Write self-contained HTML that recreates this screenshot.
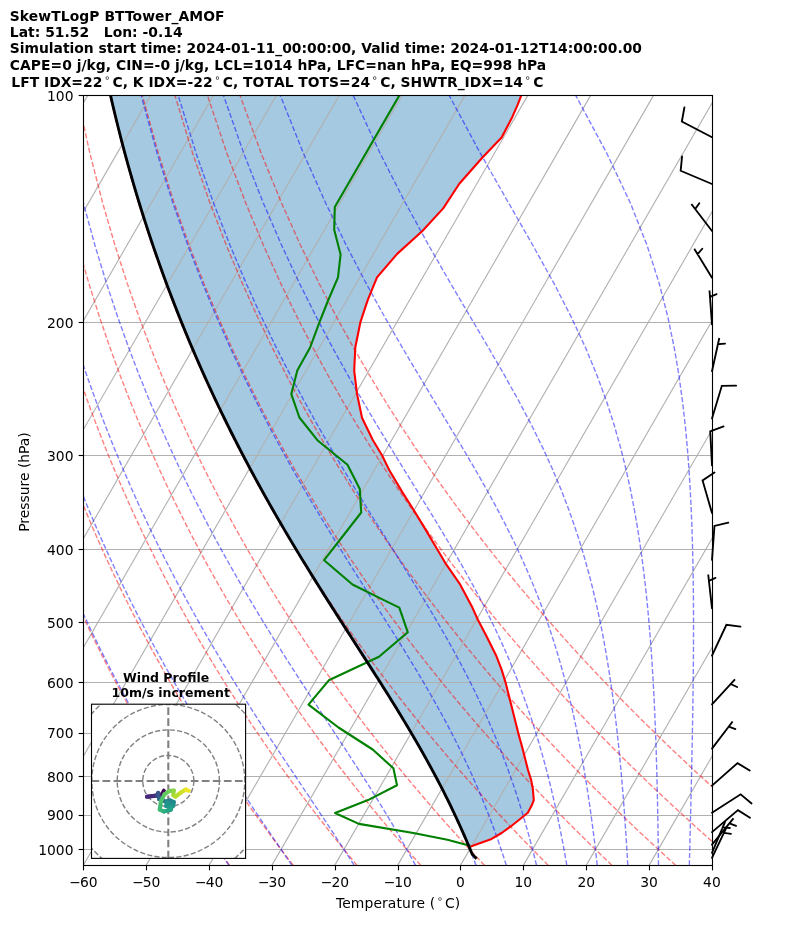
<!DOCTYPE html>
<html><head><meta charset="utf-8"><title>SkewTLogP BTTower_AMOF</title>
<style>html,body{margin:0;padding:0;background:#fff}svg{display:block}text{font-family:"DejaVu Sans","Liberation Sans",sans-serif;fill:#000}</style></head><body>
<svg width="794" height="937" viewBox="0 0 794 937">
<rect width="794" height="937" fill="#fff"/>
<defs><clipPath id="ax"><rect x="83.5" y="95.5" width="629" height="770"/></clipPath>
<clipPath id="hodo"><rect x="91.5" y="704.2" width="154.1" height="154.2"/></clipPath></defs>
<g clip-path="url(#ax)">
<polygon points="470.6,846.6 490.2,839.6 501.6,833 510.4,826.7 519.2,819.7 527.8,812.8 531.8,805.3 533.8,800.2 532.8,788.9 531.2,780.1 528,770 522.4,748 518.4,733.6 512,708 505.3,681.6 501.6,669.6 496,655.2 486.4,636 478,620 472.4,607.6 459.6,583.6 445.2,562.8 437.2,549.2 424.4,527.6 413.2,509.2 402,491.6 389.2,470 382,455.2 372.8,440 362.1,418 357.1,394.4 354.2,370.8 355.3,347.3 360.5,321.8 367.7,300.1 377,277.4 397.4,253.6 422.4,231 443.2,208.4 459.3,183.7 482,158 501.6,137.6 512.2,117.2 517.5,105.1 521.3,95.4 110.53,95.4 111.99,101.77 113.49,108.15 115.01,114.52 116.56,120.9 118.15,127.27 119.76,133.65 121.4,140.02 123.07,146.4 124.77,152.77 126.5,159.15 128.26,165.52 130.05,171.9 131.87,178.27 133.72,184.64 135.61,191.02 137.52,197.39 139.47,203.77 141.44,210.14 143.45,216.52 145.49,222.89 147.56,229.27 149.67,235.64 151.8,242.02 153.97,248.39 156.17,254.76 158.41,261.14 160.67,267.51 162.97,273.89 165.31,280.26 167.67,286.64 170.08,293.01 172.51,299.39 174.98,305.76 177.48,312.14 180.02,318.51 182.59,324.89 185.2,331.26 187.84,337.63 190.51,344.01 193.23,350.38 195.97,356.76 198.76,363.13 201.57,369.51 204.43,375.88 207.32,382.26 210.25,388.63 213.21,395.01 216.21,401.38 219.24,407.75 222.32,414.13 225.43,420.5 228.57,426.88 231.76,433.25 234.98,439.63 238.23,446 241.53,452.38 244.86,458.75 248.23,465.13 251.63,471.5 255.08,477.88 258.55,484.25 262.07,490.62 265.62,497 269.21,503.37 272.83,509.75 276.48,516.12 280.17,522.5 283.9,528.87 287.66,535.25 291.45,541.62 295.27,548 299.12,554.37 303,560.74 306.91,567.12 310.85,573.49 314.81,579.87 318.8,586.24 322.8,592.62 326.83,598.99 330.88,605.37 334.94,611.74 339.01,618.12 343.1,624.49 347.2,630.87 351.3,637.24 355.4,643.61 359.5,649.99 363.6,656.36 367.69,662.74 371.77,669.11 375.84,675.49 379.89,681.86 383.92,688.24 387.92,694.61 391.9,700.99 395.84,707.36 399.75,713.73 403.62,720.11 407.45,726.48 411.24,732.86 414.97,739.23 418.66,745.61 422.29,751.98 425.87,758.36 429.39,764.73 432.85,771.11 436.26,777.48 439.6,783.86 442.87,790.23 446.09,796.6 449.24,802.98 452.32,809.35 455.34,815.73 458.29,822.1 461.18,828.48 464.01,834.85 466.77,841.23" fill="#1f77b4" fill-opacity="0.4"/>
</g>
<g clip-path="url(#ax)" stroke="#b0b0b0" stroke-width="1.11" fill="none">
<line x1="83.25" x2="711.95" y1="322.5" y2="322.5"/>
<line x1="83.25" x2="711.95" y1="455.5" y2="455.5"/>
<line x1="83.25" x2="711.95" y1="549.5" y2="549.5"/>
<line x1="83.25" x2="711.95" y1="622.5" y2="622.5"/>
<line x1="83.25" x2="711.95" y1="682.5" y2="682.5"/>
<line x1="83.25" x2="711.95" y1="733.5" y2="733.5"/>
<line x1="83.25" x2="711.95" y1="776.5" y2="776.5"/>
<line x1="83.25" x2="711.95" y1="815.5" y2="815.5"/>
<line x1="83.25" x2="711.95" y1="849.5" y2="849.5"/>
<line x1="-419.71" y1="865.4" x2="24.85" y2="95.4"/>
<line x1="-356.84" y1="865.4" x2="87.72" y2="95.4"/>
<line x1="-293.97" y1="865.4" x2="150.59" y2="95.4"/>
<line x1="-231.1" y1="865.4" x2="213.46" y2="95.4"/>
<line x1="-168.23" y1="865.4" x2="276.33" y2="95.4"/>
<line x1="-105.36" y1="865.4" x2="339.2" y2="95.4"/>
<line x1="-42.49" y1="865.4" x2="402.07" y2="95.4"/>
<line x1="20.38" y1="865.4" x2="464.94" y2="95.4"/>
<line x1="83.25" y1="865.4" x2="527.81" y2="95.4"/>
<line x1="146.12" y1="865.4" x2="590.68" y2="95.4"/>
<line x1="208.99" y1="865.4" x2="653.55" y2="95.4"/>
<line x1="271.86" y1="865.4" x2="716.42" y2="95.4"/>
<line x1="334.73" y1="865.4" x2="779.29" y2="95.4"/>
<line x1="397.6" y1="865.4" x2="842.16" y2="95.4"/>
<line x1="460.47" y1="865.4" x2="905.03" y2="95.4"/>
<line x1="523.34" y1="865.4" x2="967.9" y2="95.4"/>
<line x1="586.21" y1="865.4" x2="1030.77" y2="95.4"/>
<line x1="649.08" y1="865.4" x2="1093.64" y2="95.4"/>
<line x1="711.95" y1="865.4" x2="1156.51" y2="95.4"/>
</g>
<g clip-path="url(#ax)" fill="none" stroke-width="1.39" stroke-dasharray="5.14 2.22">
<g stroke="#ff0000" stroke-opacity="0.5">
<polyline points="229.57,865.4 225.2,859.3 220.79,853.08 216.34,846.74 211.84,840.27 207.31,833.68 202.73,826.95 198.11,820.08 193.44,813.06 188.72,805.89 183.95,798.55 179.14,791.05 174.27,783.38 169.35,775.51 164.38,767.46 159.35,759.2 154.26,750.73 149.12,742.03 143.91,733.1 138.65,723.92 133.32,714.47 127.92,704.74 122.45,694.71 116.92,684.36 111.31,673.68 105.63,662.64 99.88,651.21 94.04,639.37 88.12,627.08 82.12,614.32 76.03,601.04 69.86,587.19 63.59,572.74 57.23,557.62 50.77,541.76 44.22,525.1 37.56,507.54 30.81,488.99 23.96,469.33 17.01,448.41 9.96,426.06 2.83,402.07 -4.38,376.19 -11.65,348.08 -18.95,317.33 -26.24,283.4 -33.45,245.53 -40.46,202.71 -47.1,153.43 -53.02,95.4"/>
<polyline points="293.32,865.4 288.61,859.3 283.86,853.08 279.06,846.74 274.21,840.27 269.32,833.68 264.38,826.95 259.39,820.08 254.34,813.06 249.24,805.89 244.09,798.55 238.88,791.05 233.62,783.38 228.29,775.51 222.91,767.46 217.46,759.2 211.95,750.73 206.37,742.03 200.72,733.1 195,723.92 189.2,714.47 183.33,704.74 177.39,694.71 171.36,684.36 165.25,673.68 159.05,662.64 152.76,651.21 146.38,639.37 139.91,627.08 133.33,614.32 126.65,601.04 119.87,587.19 112.97,572.74 105.97,557.62 98.84,541.76 91.59,525.1 84.22,507.54 76.72,488.99 69.08,469.33 61.32,448.41 53.42,426.06 45.38,402.07 37.22,376.19 28.94,348.08 20.57,317.33 12.13,283.4 3.67,245.53 -4.7,202.71 -12.84,153.43 -20.46,95.4"/>
<polyline points="357.07,865.4 352.02,859.3 346.93,853.08 341.78,846.74 336.58,840.27 331.33,833.68 326.03,826.95 320.67,820.08 315.25,813.06 309.77,805.89 304.23,798.55 298.63,791.05 292.97,783.38 287.24,775.51 281.44,767.46 275.57,759.2 269.63,750.73 263.61,742.03 257.52,733.1 251.35,723.92 245.09,714.47 238.75,704.74 232.32,694.71 225.8,684.36 219.18,673.68 212.46,662.64 205.65,651.21 198.72,639.37 191.69,627.08 184.54,614.32 177.27,601.04 169.88,587.19 162.36,572.74 154.71,557.62 146.91,541.76 138.97,525.1 130.87,507.54 122.62,488.99 114.21,469.33 105.63,448.41 96.87,426.06 87.94,402.07 78.83,376.19 69.54,348.08 60.09,317.33 50.5,283.4 40.79,245.53 31.06,202.71 21.41,153.43 12.1,95.4"/>
<polyline points="420.82,865.4 415.44,859.3 410,853.08 404.5,846.74 398.95,840.27 393.35,833.68 387.68,826.95 381.95,820.08 376.16,813.06 370.3,805.89 364.37,798.55 358.38,791.05 352.32,783.38 346.18,775.51 339.97,767.46 333.68,759.2 327.31,750.73 320.86,742.03 314.32,733.1 307.69,723.92 300.98,714.47 294.16,704.74 287.25,694.71 280.23,684.36 273.11,673.68 265.88,662.64 258.53,651.21 251.07,639.37 243.47,627.08 235.75,614.32 227.9,601.04 219.9,587.19 211.75,572.74 203.44,557.62 194.98,541.76 186.34,525.1 177.53,507.54 168.53,488.99 159.33,469.33 149.94,448.41 140.32,426.06 130.49,402.07 120.43,376.19 110.14,348.08 99.61,317.33 88.86,283.4 77.92,245.53 66.82,202.71 55.67,153.43 44.67,95.4"/>
<polyline points="484.58,865.4 478.85,859.3 473.07,853.08 467.23,846.74 461.32,840.27 455.36,833.68 449.33,826.95 443.23,820.08 437.06,813.06 430.82,805.89 424.51,798.55 418.13,791.05 411.67,783.38 405.13,775.51 398.5,767.46 391.79,759.2 384.99,750.73 378.11,742.03 371.12,733.1 364.04,723.92 356.86,714.47 349.58,704.74 342.18,694.71 334.67,684.36 327.05,673.68 319.3,662.64 311.42,651.21 303.41,639.37 295.26,627.08 286.96,614.32 278.52,601.04 269.91,587.19 261.13,572.74 252.18,557.62 243.05,541.76 233.72,525.1 224.19,507.54 214.44,488.99 204.46,469.33 194.25,448.41 183.78,426.06 173.04,402.07 162.03,376.19 150.73,348.08 139.13,317.33 127.23,283.4 115.04,245.53 102.58,202.71 89.92,153.43 77.23,95.4"/>
<polyline points="548.33,865.4 542.27,859.3 536.14,853.08 529.95,846.74 523.69,840.27 517.37,833.68 510.98,826.95 504.51,820.08 497.97,813.06 491.35,805.89 484.66,798.55 477.88,791.05 471.02,783.38 464.07,775.51 457.03,767.46 449.9,759.2 442.68,750.73 435.35,742.03 427.93,733.1 420.39,723.92 412.75,714.47 404.99,704.74 397.11,694.71 389.11,684.36 380.98,673.68 372.71,662.64 364.31,651.21 355.75,639.37 347.04,627.08 338.17,614.32 329.14,601.04 319.92,587.19 310.52,572.74 300.92,557.62 291.12,541.76 281.1,525.1 270.84,507.54 260.34,488.99 249.59,469.33 238.55,448.41 227.23,426.06 215.6,402.07 203.64,376.19 191.33,348.08 178.66,317.33 165.6,283.4 152.16,245.53 138.34,202.71 124.18,153.43 109.8,95.4"/>
<polyline points="612.08,865.4 605.68,859.3 599.21,853.08 592.67,846.74 586.06,840.27 579.38,833.68 572.62,826.95 565.79,820.08 558.88,813.06 551.88,805.89 544.8,798.55 537.63,791.05 530.37,783.38 523.01,775.51 515.56,767.46 508.01,759.2 500.36,750.73 492.6,742.03 484.73,733.1 476.74,723.92 468.64,714.47 460.4,704.74 452.04,694.71 443.55,684.36 434.91,673.68 426.13,662.64 417.19,651.21 408.09,639.37 398.83,627.08 389.39,614.32 379.76,601.04 369.94,587.19 359.91,572.74 349.66,557.62 339.19,541.76 328.47,525.1 317.5,507.54 306.25,488.99 294.71,469.33 282.86,448.41 270.69,426.06 258.15,402.07 245.24,376.19 231.93,348.08 218.18,317.33 203.97,283.4 189.28,245.53 174.1,202.71 158.43,153.43 142.36,95.4"/>
<polyline points="675.83,865.4 669.09,859.3 662.28,853.08 655.4,846.74 648.43,840.27 641.39,833.68 634.27,826.95 627.07,820.08 619.78,813.06 612.41,805.89 604.94,798.55 597.38,791.05 589.72,783.38 581.96,775.51 574.1,767.46 566.13,759.2 558.04,750.73 549.85,742.03 541.53,733.1 533.09,723.92 524.52,714.47 515.82,704.74 506.98,694.71 497.99,684.36 488.84,673.68 479.54,662.64 470.08,651.21 460.44,639.37 450.61,627.08 440.6,614.32 430.38,601.04 419.95,587.19 409.29,572.74 398.4,557.62 387.26,541.76 375.85,525.1 364.15,507.54 352.16,488.99 339.84,469.33 327.17,448.41 314.14,426.06 300.71,402.07 286.85,376.19 272.52,348.08 257.7,317.33 242.34,283.4 226.4,245.53 209.86,202.71 192.69,153.43 174.93,95.4"/>
<polyline points="739.59,865.4 732.51,859.3 725.35,853.08 718.12,846.74 710.8,840.27 703.41,833.68 695.92,826.95 688.35,820.08 680.69,813.06 672.93,805.89 665.08,798.55 657.12,791.05 649.07,783.38 640.9,775.51 632.63,767.46 624.24,759.2 615.73,750.73 607.1,742.03 598.33,733.1 589.44,723.92 580.41,714.47 571.23,704.74 561.91,694.71 552.42,684.36 542.78,673.68 532.96,662.64 522.96,651.21 512.78,639.37 502.4,627.08 491.81,614.32 481,601.04 469.96,587.19 458.68,572.74 447.14,557.62 435.33,541.76 423.22,525.1 410.81,507.54 398.06,488.99 384.96,469.33 371.48,448.41 357.59,426.06 343.26,402.07 328.45,376.19 313.12,348.08 297.22,317.33 280.71,283.4 263.52,245.53 245.62,202.71 226.94,153.43 207.49,95.4"/>
<polyline points="803.34,865.4 795.92,859.3 788.42,853.08 780.84,846.74 773.17,840.27 765.42,833.68 757.57,826.95 749.63,820.08 741.6,813.06 733.46,805.89 725.22,798.55 716.87,791.05 708.42,783.38 699.85,775.51 691.16,767.46 682.35,759.2 673.41,750.73 664.34,742.03 655.14,733.1 645.79,723.92 636.3,714.47 626.65,704.74 616.84,694.71 606.86,684.36 596.71,673.68 586.38,662.64 575.85,651.21 565.12,639.37 554.18,627.08 543.02,614.32 531.62,601.04 519.97,587.19 508.07,572.74 495.88,557.62 483.4,541.76 470.6,525.1 457.46,507.54 443.97,488.99 430.09,469.33 415.79,448.41 401.05,426.06 385.82,402.07 370.05,376.19 353.71,348.08 336.74,317.33 319.08,283.4 300.65,245.53 281.38,202.71 261.2,153.43 240.06,95.4"/>
</g><g stroke="#0000ff" stroke-opacity="0.5">
<polyline points="229,865.4 224.86,859.3 220.67,853.08 216.42,846.74 212.1,840.27 207.73,833.68 203.3,826.95 198.81,820.08 194.26,813.06 189.65,805.89 184.98,798.55 180.25,791.05 175.46,783.38 170.6,775.51 165.68,767.46 160.7,759.2 155.65,750.73 150.54,742.03 145.36,733.1 140.11,723.92 134.8,714.47 129.41,704.74 123.95,694.71 118.42,684.36 112.81,673.68 107.12,662.64 101.36,651.21 95.51,639.37 89.59,627.08 83.57,614.32 77.47,601.04 71.28,587.19 64.99,572.74 58.62,557.62 52.14,541.76 45.57,525.1 38.89,507.54 32.12,488.99 25.24,469.33 18.27,448.41 11.2,426.06 4.04,402.07 -3.2,376.19 -10.5,348.08 -17.83,317.33 -25.16,283.4 -32.4,245.53 -39.46,202.71 -46.14,153.43 -52.11,95.4"/>
<polyline points="291.95,865.4 287.8,859.3 283.57,853.08 279.26,846.74 274.86,840.27 270.38,833.68 265.82,826.95 261.18,820.08 256.45,813.06 251.64,805.89 246.75,798.55 241.77,791.05 236.71,783.38 231.57,775.51 226.34,767.46 221.03,759.2 215.64,750.73 210.15,742.03 204.59,733.1 198.93,723.92 193.19,714.47 187.36,704.74 181.44,694.71 175.42,684.36 169.32,673.68 163.12,662.64 156.82,651.21 150.42,639.37 143.92,627.08 137.32,614.32 130.6,601.04 123.78,587.19 116.84,572.74 109.79,557.62 102.61,541.76 95.31,525.1 87.88,507.54 80.32,488.99 72.63,469.33 64.8,448.41 56.83,426.06 48.72,402.07 40.49,376.19 32.13,348.08 23.67,317.33 15.13,283.4 6.58,245.53 -1.91,202.71 -10.16,153.43 -17.92,95.4"/>
<polyline points="354.19,865.4 350.3,859.3 346.31,853.08 342.22,846.74 338.01,840.27 333.68,833.68 329.25,826.95 324.7,820.08 320.03,813.06 315.25,805.89 310.35,798.55 305.33,791.05 300.2,783.38 294.94,775.51 289.57,767.46 284.07,759.2 278.46,750.73 272.73,742.03 266.88,733.1 260.9,723.92 254.81,714.47 248.6,704.74 242.27,694.71 235.82,684.36 229.25,673.68 222.55,662.64 215.73,651.21 208.78,639.37 201.7,627.08 194.5,614.32 187.16,601.04 179.68,587.19 172.06,572.74 164.29,557.62 156.38,541.76 148.31,525.1 140.08,507.54 131.69,488.99 123.12,469.33 114.38,448.41 105.45,426.06 96.34,402.07 87.04,376.19 77.56,348.08 67.89,317.33 58.07,283.4 48.12,245.53 38.11,202.71 28.17,153.43 18.53,95.4"/>
<polyline points="415.53,865.4 412.25,859.3 408.85,853.08 405.33,846.74 401.67,840.27 397.89,833.68 393.97,826.95 389.9,820.08 385.69,813.06 381.33,805.89 376.81,798.55 372.14,791.05 367.3,783.38 362.3,775.51 357.14,767.46 351.8,759.2 346.29,750.73 340.61,742.03 334.75,733.1 328.71,723.92 322.5,714.47 316.12,704.74 309.56,694.71 302.82,684.36 295.9,673.68 288.81,662.64 281.54,651.21 274.1,639.37 266.48,627.08 258.69,614.32 250.71,601.04 242.56,587.19 234.22,572.74 225.7,557.62 216.98,541.76 208.07,525.1 198.96,507.54 189.63,488.99 180.09,469.33 170.33,448.41 160.33,426.06 150.08,402.07 139.58,376.19 128.83,348.08 117.81,317.33 106.53,283.4 95,245.53 83.28,202.71 71.43,153.43 59.65,95.4"/>
<polyline points="476.15,865.4 473.73,859.3 471.21,853.08 468.57,846.74 465.82,840.27 462.94,833.68 459.94,826.95 456.8,820.08 453.51,813.06 450.07,805.89 446.46,798.55 442.69,791.05 438.73,783.38 434.59,775.51 430.25,767.46 425.7,759.2 420.93,750.73 415.94,742.03 410.71,733.1 405.23,723.92 399.51,714.47 393.53,704.74 387.28,694.71 380.77,684.36 373.98,673.68 366.91,662.64 359.57,651.21 351.94,639.37 344.04,627.08 335.86,614.32 327.41,601.04 318.67,587.19 309.67,572.74 300.39,557.62 290.83,541.76 281,525.1 270.89,507.54 260.49,488.99 249.81,469.33 238.82,448.41 227.53,426.06 215.91,402.07 203.95,376.19 191.64,348.08 178.96,317.33 165.9,283.4 152.45,245.53 138.61,202.71 124.44,153.43 110.04,95.4"/>
<polyline points="506.35,865.4 504.39,859.3 502.35,853.08 500.22,846.74 497.99,840.27 495.65,833.68 493.2,826.95 490.62,820.08 487.93,813.06 485.09,805.89 482.11,798.55 478.97,791.05 475.66,783.38 472.18,775.51 468.51,767.46 464.63,759.2 460.54,750.73 456.22,742.03 451.66,733.1 446.84,723.92 441.75,714.47 436.38,704.74 430.7,694.71 424.71,684.36 418.4,673.68 411.75,662.64 404.76,651.21 397.41,639.37 389.7,627.08 381.63,614.32 373.19,601.04 364.38,587.19 355.22,572.74 345.69,557.62 335.79,541.76 325.55,525.1 314.94,507.54 303.98,488.99 292.66,469.33 280.98,448.41 268.92,426.06 256.48,402.07 243.65,376.19 230.39,348.08 216.69,317.33 202.53,283.4 187.89,245.53 172.76,202.71 157.15,153.43 141.14,95.4"/>
<polyline points="536.56,865.4 535.06,859.3 533.5,853.08 531.87,846.74 530.15,840.27 528.36,833.68 526.47,826.95 524.49,820.08 522.4,813.06 520.21,805.89 517.89,798.55 515.45,791.05 512.86,783.38 510.13,775.51 507.24,767.46 504.17,759.2 500.91,750.73 497.44,742.03 493.76,733.1 489.83,723.92 485.65,714.47 481.19,704.74 476.42,694.71 471.34,684.36 465.91,673.68 460.11,662.64 453.92,651.21 447.32,639.37 440.28,627.08 432.78,614.32 424.82,601.04 416.36,587.19 407.42,572.74 397.98,557.62 388.04,541.76 377.6,525.1 366.67,507.54 355.24,488.99 343.34,469.33 330.95,448.41 318.09,426.06 304.74,402.07 290.89,376.19 276.53,348.08 261.64,317.33 246.18,283.4 230.13,245.53 213.45,202.71 196.13,153.43 178.19,95.4"/>
<polyline points="566.85,865.4 565.78,859.3 564.67,853.08 563.5,846.74 562.28,840.27 561,833.68 559.65,826.95 558.23,820.08 556.74,813.06 555.16,805.89 553.5,798.55 551.74,791.05 549.88,783.38 547.91,775.51 545.81,767.46 543.58,759.2 541.2,750.73 538.66,742.03 535.95,733.1 533.04,723.92 529.93,714.47 526.58,704.74 522.98,694.71 519.09,684.36 514.9,673.68 510.37,662.64 505.47,651.21 500.15,639.37 494.39,627.08 488.14,614.32 481.36,601.04 474,587.19 466.04,572.74 457.44,557.62 448.15,541.76 438.17,525.1 427.47,507.54 416.06,488.99 403.92,469.33 391.08,448.41 377.53,426.06 363.3,402.07 348.39,376.19 332.8,348.08 316.51,317.33 299.5,283.4 281.75,245.53 263.19,202.71 243.78,153.43 223.49,95.4"/>
<polyline points="597.25,865.4 596.57,859.3 595.86,853.08 595.12,846.74 594.33,840.27 593.51,833.68 592.65,826.95 591.74,820.08 590.78,813.06 589.77,805.89 588.7,798.55 587.56,791.05 586.36,783.38 585.09,775.51 583.73,767.46 582.28,759.2 580.73,750.73 579.07,742.03 577.29,733.1 575.39,723.92 573.33,714.47 571.11,704.74 568.71,694.71 566.1,684.36 563.27,673.68 560.19,662.64 556.81,651.21 553.12,639.37 549.06,627.08 544.59,614.32 539.65,601.04 534.19,587.19 528.14,572.74 521.43,557.62 513.97,541.76 505.69,525.1 496.5,507.54 486.34,488.99 475.14,469.33 462.84,448.41 449.44,426.06 434.92,402.07 419.31,376.19 402.63,348.08 384.9,317.33 366.15,283.4 346.36,245.53 325.49,202.71 303.49,153.43 280.26,95.4"/>
<polyline points="627.8,865.4 627.45,859.3 627.09,853.08 626.71,846.74 626.3,840.27 625.88,833.68 625.43,826.95 624.95,820.08 624.45,813.06 623.92,805.89 623.36,798.55 622.76,791.05 622.12,783.38 621.44,775.51 620.71,767.46 619.93,759.2 619.09,750.73 618.19,742.03 617.22,733.1 616.18,723.92 615.04,714.47 613.81,704.74 612.47,694.71 611.01,684.36 609.42,673.68 607.66,662.64 605.73,651.21 603.6,639.37 601.24,627.08 598.6,614.32 595.66,601.04 592.37,587.19 588.65,572.74 584.45,557.62 579.68,541.76 574.23,525.1 567.99,507.54 560.81,488.99 552.54,469.33 543,448.41 532.01,426.06 519.39,402.07 505,376.19 488.73,348.08 470.58,317.33 450.58,283.4 428.81,245.53 405.32,202.71 380.14,153.43 353.2,95.4"/>
<polyline points="658.5,865.4 658.43,859.3 658.35,853.08 658.27,846.74 658.18,840.27 658.08,833.68 657.97,826.95 657.86,820.08 657.73,813.06 657.59,805.89 657.44,798.55 657.28,791.05 657.1,783.38 656.9,775.51 656.68,767.46 656.44,759.2 656.18,750.73 655.88,742.03 655.56,733.1 655.2,723.92 654.81,714.47 654.37,704.74 653.87,694.71 653.33,684.36 652.71,673.68 652.03,662.64 651.25,651.21 650.38,639.37 649.39,627.08 648.28,614.32 647,601.04 645.54,587.19 643.86,572.74 641.93,557.62 639.68,541.76 637.06,525.1 633.97,507.54 630.33,488.99 625.99,469.33 620.77,448.41 614.46,426.06 606.77,402.07 597.33,376.19 585.71,348.08 571.41,317.33 553.96,283.4 533,245.53 508.44,202.71 480.42,153.43 449.18,95.4"/>
<polyline points="689.34,865.4 689.49,859.3 689.65,853.08 689.81,846.74 689.97,840.27 690.13,833.68 690.3,826.95 690.47,820.08 690.64,813.06 690.81,805.89 690.99,798.55 691.16,791.05 691.34,783.38 691.52,775.51 691.7,767.46 691.87,759.2 692.05,750.73 692.22,742.03 692.39,733.1 692.56,723.92 692.72,714.47 692.87,704.74 693.02,694.71 693.15,684.36 693.27,673.68 693.37,662.64 693.45,651.21 693.5,639.37 693.52,627.08 693.5,614.32 693.43,601.04 693.3,587.19 693.09,572.74 692.8,557.62 692.4,541.76 691.85,525.1 691.13,507.54 690.19,488.99 688.97,469.33 687.38,448.41 685.31,426.06 682.61,402.07 679.06,376.19 674.32,348.08 667.94,317.33 659.21,283.4 647.12,245.53 630.23,202.71 606.86,153.43 575.71,95.4"/>
<polyline points="720.31,865.4 720.64,859.3 720.97,853.08 721.32,846.74 721.68,840.27 722.05,833.68 722.43,826.95 722.81,820.08 723.21,813.06 723.63,805.89 724.05,798.55 724.49,791.05 724.93,783.38 725.4,775.51 725.87,767.46 726.36,759.2 726.87,750.73 727.39,742.03 727.92,733.1 728.47,723.92 729.04,714.47 729.63,704.74 730.23,694.71 730.85,684.36 731.49,673.68 732.15,662.64 732.83,651.21 733.52,639.37 734.24,627.08 734.97,614.32 735.73,601.04 736.5,587.19 737.29,572.74 738.08,557.62 738.89,541.76 739.7,525.1 740.51,507.54 741.3,488.99 742.06,469.33 742.77,448.41 743.4,426.06 743.9,402.07 744.21,376.19 744.21,348.08 743.76,317.33 742.6,283.4 740.28,245.53 736.04,202.71 728.45,153.43 714.72,95.4"/>
<polyline points="751.39,865.4 751.85,859.3 752.33,853.08 752.82,846.74 753.32,840.27 753.85,833.68 754.38,826.95 754.94,820.08 755.51,813.06 756.1,805.89 756.7,798.55 757.33,791.05 757.98,783.38 758.65,775.51 759.35,767.46 760.06,759.2 760.81,750.73 761.58,742.03 762.37,733.1 763.2,723.92 764.06,714.47 764.95,704.74 765.88,694.71 766.84,684.36 767.85,673.68 768.89,662.64 769.98,651.21 771.12,639.37 772.31,627.08 773.55,614.32 774.85,601.04 776.22,587.19 777.65,572.74 779.15,557.62 780.73,541.76 782.4,525.1 784.15,507.54 786.01,488.99 787.97,469.33 790.04,448.41 792.24,426.06 794.57,402.07 797.03,376.19 799.63,348.08 802.37,317.33 805.23,283.4 808.14,245.53 811,202.71 813.53,153.43 815.11,95.4"/>
<polyline points="782.56,865.4 783.12,859.3 783.7,853.08 784.3,846.74 784.91,840.27 785.54,833.68 786.2,826.95 786.87,820.08 787.56,813.06 788.28,805.89 789.02,798.55 789.78,791.05 790.58,783.38 791.4,775.51 792.24,767.46 793.12,759.2 794.03,750.73 794.98,742.03 795.96,733.1 796.98,723.92 798.04,714.47 799.14,704.74 800.29,694.71 801.49,684.36 802.74,673.68 804.05,662.64 805.41,651.21 806.85,639.37 808.35,627.08 809.93,614.32 811.59,601.04 813.34,587.19 815.19,572.74 817.14,557.62 819.21,541.76 821.41,525.1 823.75,507.54 826.26,488.99 828.94,469.33 831.82,448.41 834.93,426.06 838.3,402.07 841.97,376.19 845.99,348.08 850.41,317.33 855.31,283.4 860.79,245.53 866.97,202.71 874,153.43 882.08,95.4"/>
</g></g>
<g clip-path="url(#ax)" fill="none" stroke-linejoin="round" stroke-linecap="butt">
<polyline points="470.6,846.6 490.2,839.6 501.6,833 510.4,826.7 519.2,819.7 527.8,812.8 531.8,805.3 533.8,800.2 532.8,788.9 531.2,780.1 528,770 522.4,748 518.4,733.6 512,708 505.3,681.6 501.6,669.6 496,655.2 486.4,636 478,620 472.4,607.6 459.6,583.6 445.2,562.8 437.2,549.2 424.4,527.6 413.2,509.2 402,491.6 389.2,470 382,455.2 372.8,440 362.1,418 357.1,394.4 354.2,370.8 355.3,347.3 360.5,321.8 367.7,300.1 377,277.4 397.4,253.6 422.4,231 443.2,208.4 459.3,183.7 482,158 501.6,137.6 512.2,117.2 517.5,105.1 521.3,95.4" stroke="#ff0000" stroke-width="2.1"/>
<polyline points="470,846.6 468.9,845.4 447.4,839.8 413.4,833 358.9,823.9 335.1,813 368,800.1 397,785.3 393.4,768.3 372.7,749.5 338.5,727.5 308.5,704.6 328.8,680.3 379,656.7 407.8,632.3 399.3,607.6 383.4,599.9 352.5,584.5 324.1,560.2 361.2,512.5 359.8,488.9 347.5,464.8 318,440.8 299.4,417.5 291.3,394.1 297.3,370.5 310.1,347.5 319.5,322.2 328.1,300.5 338,277.4 340.6,254.4 334.2,229.8 334.8,207 399.3,95.4" stroke="#008000" stroke-width="2.1"/>
<polyline points="476.56,858.78 472.1,853.98 469.46,847.6 466.77,841.23 464.01,834.85 461.18,828.48 458.29,822.1 455.34,815.73 452.32,809.35 449.24,802.98 446.09,796.6 442.87,790.23 439.6,783.86 436.26,777.48 432.85,771.11 429.39,764.73 425.87,758.36 422.29,751.98 418.66,745.61 414.97,739.23 411.24,732.86 407.45,726.48 403.62,720.11 399.75,713.73 395.84,707.36 391.9,700.99 387.92,694.61 383.92,688.24 379.89,681.86 375.84,675.49 371.77,669.11 367.69,662.74 363.6,656.36 359.5,649.99 355.4,643.61 351.3,637.24 347.2,630.87 343.1,624.49 339.01,618.12 334.94,611.74 330.88,605.37 326.83,598.99 322.8,592.62 318.8,586.24 314.81,579.87 310.85,573.49 306.91,567.12 303,560.74 299.12,554.37 295.27,548 291.45,541.62 287.66,535.25 283.9,528.87 280.17,522.5 276.48,516.12 272.83,509.75 269.21,503.37 265.62,497 262.07,490.62 258.55,484.25 255.08,477.88 251.63,471.5 248.23,465.13 244.86,458.75 241.53,452.38 238.23,446 234.98,439.63 231.76,433.25 228.57,426.88 225.43,420.5 222.32,414.13 219.24,407.75 216.21,401.38 213.21,395.01 210.25,388.63 207.32,382.26 204.43,375.88 201.57,369.51 198.76,363.13 195.97,356.76 193.23,350.38 190.51,344.01 187.84,337.63 185.2,331.26 182.59,324.89 180.02,318.51 177.48,312.14 174.98,305.76 172.51,299.39 170.08,293.01 167.67,286.64 165.31,280.26 162.97,273.89 160.67,267.51 158.41,261.14 156.17,254.76 153.97,248.39 151.8,242.02 149.67,235.64 147.56,229.27 145.49,222.89 143.45,216.52 141.44,210.14 139.47,203.77 137.52,197.39 135.61,191.02 133.72,184.64 131.87,178.27 130.05,171.9 128.26,165.52 126.5,159.15 124.77,152.77 123.07,146.4 121.4,140.02 119.76,133.65 118.15,127.27 116.56,120.9 115.01,114.52 113.49,108.15 111.99,101.77 110.53,95.4" stroke="#000" stroke-width="2.85"/>
</g>
<g fill="none" stroke="#000" stroke-width="1.85" stroke-linejoin="miter" stroke-linecap="round">
<polyline points="712,137.3 681.84,121.54 684.38,107.5"/>
<polyline points="712,184 680.66,170.74 682.05,156.54"/>
<polyline points="712,231 691.33,203.97 695.21,209.03 699.32,203.21"/>
<polyline points="712,277.7 694.23,248.68 697.56,254.12 702.26,248.75"/>
<polyline points="712,324.4 709.5,290.46 709.97,296.83 716.6,294.2"/>
<polyline points="712,371.2 719.29,337.96 717.92,344.19 725.02,343.57"/>
<polyline points="712,418.4 721.83,385.82 736.09,385.68"/>
<polyline points="712,465.4 710.23,431.42 723.6,426.46"/>
<polyline points="712,513.1 702.57,480.4 714.47,472.54"/>
<polyline points="712,559.9 714.45,525.96 728.33,522.69"/>
<polyline points="712,608.3 708.22,574.48 708.93,580.82 715.46,577.95"/>
<polyline points="712,655.6 726.39,624.76 740.52,626.66"/>
<polyline points="712,704.4 734.97,679.29 730.66,684 737.12,687.03"/>
<polyline points="712,748.6 732.6,721.51 728.74,726.59 735.44,729.02"/>
<polyline points="712,785.6 737.53,763.11 749.72,770.51"/>
<polyline points="712,812.7 740.64,794.32 751.57,803.48"/>
<polyline points="712,832.1 737.96,810.1 750.01,817.73"/>
<polyline points="712,844.7 733.47,818.3 729.44,823.25 736.06,825.89"/>
<polyline points="712,852.8 725.22,821.44 722.74,827.32 729.84,828.01"/>
<polyline points="712,857.8 726.66,827.09 723.91,832.85 730.97,833.86"/>
</g>
<rect x="83.5" y="95.5" width="629" height="770" fill="none" stroke="#000" stroke-width="1.11"/>
<g stroke="#000" stroke-width="1.11">
<line x1="78.64" x2="83.5" y1="95.5" y2="95.5"/>
<line x1="78.64" x2="83.5" y1="322.5" y2="322.5"/>
<line x1="78.64" x2="83.5" y1="455.5" y2="455.5"/>
<line x1="78.64" x2="83.5" y1="549.5" y2="549.5"/>
<line x1="78.64" x2="83.5" y1="622.5" y2="622.5"/>
<line x1="78.64" x2="83.5" y1="682.5" y2="682.5"/>
<line x1="78.64" x2="83.5" y1="733.5" y2="733.5"/>
<line x1="78.64" x2="83.5" y1="776.5" y2="776.5"/>
<line x1="78.64" x2="83.5" y1="815.5" y2="815.5"/>
<line x1="78.64" x2="83.5" y1="849.5" y2="849.5"/>
<line x1="83.5" x2="83.5" y1="865.5" y2="870.36"/>
<line x1="146.5" x2="146.5" y1="865.5" y2="870.36"/>
<line x1="209.5" x2="209.5" y1="865.5" y2="870.36"/>
<line x1="272.5" x2="272.5" y1="865.5" y2="870.36"/>
<line x1="335.5" x2="335.5" y1="865.5" y2="870.36"/>
<line x1="398.5" x2="398.5" y1="865.5" y2="870.36"/>
<line x1="460.5" x2="460.5" y1="865.5" y2="870.36"/>
<line x1="523.5" x2="523.5" y1="865.5" y2="870.36"/>
<line x1="586.5" x2="586.5" y1="865.5" y2="870.36"/>
<line x1="649.5" x2="649.5" y1="865.5" y2="870.36"/>
<line x1="712.5" x2="712.5" y1="865.5" y2="870.36"/>
</g>
<g font-size="13.89px">
<text x="73.5" y="100.9" text-anchor="end">100</text>
<text x="73.5" y="327.88" text-anchor="end">200</text>
<text x="73.5" y="460.66" text-anchor="end">300</text>
<text x="73.5" y="554.87" text-anchor="end">400</text>
<text x="73.5" y="627.94" text-anchor="end">500</text>
<text x="73.5" y="687.64" text-anchor="end">600</text>
<text x="73.5" y="738.12" text-anchor="end">700</text>
<text x="73.5" y="781.85" text-anchor="end">800</text>
<text x="73.5" y="820.42" text-anchor="end">900</text>
<text x="73.5" y="854.92" text-anchor="end">1000</text>
<text x="83.45" y="887" text-anchor="middle">−<tspan dx="-1">60</tspan></text>
<text x="146.32" y="887" text-anchor="middle">−<tspan dx="-1">50</tspan></text>
<text x="209.19" y="887" text-anchor="middle">−<tspan dx="-1">40</tspan></text>
<text x="272.06" y="887" text-anchor="middle">−<tspan dx="-1">30</tspan></text>
<text x="334.93" y="887" text-anchor="middle">−<tspan dx="-1">20</tspan></text>
<text x="397.8" y="887" text-anchor="middle">−<tspan dx="-1">10</tspan></text>
<text x="460.47" y="887" text-anchor="middle">0</text>
<text x="523.34" y="887" text-anchor="middle">10</text>
<text x="586.21" y="887" text-anchor="middle">20</text>
<text x="649.08" y="887" text-anchor="middle">30</text>
<text x="711.95" y="887" text-anchor="middle">40</text>
<text x="398.1" y="907.9" text-anchor="middle" letter-spacing="0.12">Temperature (<tspan font-size="9.7px" dx="1.8" dy="-6">∘</tspan><tspan dx="1.7" dy="6">C)</tspan></text>
<text transform="translate(29.3,482) rotate(-90)" text-anchor="middle">Pressure (hPa)</text>
</g>
<g font-size="13.89px" font-weight="bold">
<text x="9.8" y="20.7" letter-spacing="0.075" xml:space="preserve">SkewTLogP BTTower_AMOF</text>
<text x="9.8" y="37.0" letter-spacing="0.03" xml:space="preserve">Lat: 51.52   Lon: -0.14</text>
<text x="9.8" y="53.0" letter-spacing="-0.01" xml:space="preserve">Simulation start time: 2024-01-11_00:00:00, Valid time: 2024-01-12T14:00:00.00</text>
<text x="9.8" y="70.0" letter-spacing="0.028" xml:space="preserve">CAPE=0 j/kg, CIN=-0 j/kg, LCL=1014 hPa, LFC=nan hPa, EQ=998 hPa</text>
<text x="11.3" y="87.0" letter-spacing="0.012" style="font-kerning:none">LFT IDX=22<tspan font-size="9.7px" font-weight="normal" dx="1.8" dy="-6">∘</tspan><tspan dx="2.3" dy="6">C, K IDX=-22</tspan><tspan font-size="9.7px" font-weight="normal" dx="1.8" dy="-6">∘</tspan><tspan dx="2.3" dy="6">C, TOTAL TOTS=24</tspan><tspan font-size="9.7px" font-weight="normal" dx="1.8" dy="-6">∘</tspan><tspan dx="2.3" dy="6">C, SHWTR_IDX=14</tspan><tspan font-size="9.7px" font-weight="normal" dx="1.8" dy="-6">∘</tspan><tspan dx="2.3" dy="6">C</tspan></text>
</g>
<g font-size="12.5px" font-weight="bold" text-anchor="middle"><text x="166.2" y="681.8">Wind Profile</text><text x="170.7" y="696.8">10m/s increment</text></g>
<rect x="91.5" y="704.2" width="154.1" height="154.2" fill="#fff"/>
<g clip-path="url(#hodo)" fill="none" stroke="#808080">
<circle cx="0" cy="0" r="25.55" transform="translate(168.3,781.0) scale(1,-1)" stroke-width="1.39" stroke-dasharray="5.14 2.22"/>
<circle cx="0" cy="0" r="51.1" transform="translate(168.3,781.0) scale(1,-1)" stroke-width="1.39" stroke-dasharray="5.14 2.22"/>
<circle cx="0" cy="0" r="76.5" transform="translate(168.3,781.0) scale(1,-1)" stroke-width="1.39" stroke-dasharray="5.14 2.22"/>
<circle cx="0" cy="0" r="102.0" transform="translate(168.3,781.0) scale(1,-1)" stroke-width="1.39" stroke-dasharray="5.14 2.22"/>
<line x1="91.5" x2="245.6" y1="781.0" y2="781.0" stroke-width="2.08" stroke-dasharray="7.7 3.33"/>
<line x1="168.3" x2="168.3" y1="858.4000000000001" y2="704.2" stroke-width="2.08" stroke-dasharray="7.7 3.33"/>
<line x1="163.91" y1="790.67" x2="161.89" y2="794.45" stroke="#450659" stroke-width="4.0" stroke-linecap="round"/>
<line x1="161.89" y1="794.45" x2="156.54" y2="795.39" stroke="#461163" stroke-width="4.0" stroke-linecap="round"/>
<line x1="156.54" y1="795.39" x2="146.9" y2="796.65" stroke="#471d6e" stroke-width="4.0" stroke-linecap="round"/>
<line x1="146.9" y1="796.65" x2="156.54" y2="795.71" stroke="#472a79" stroke-width="4.0" stroke-linecap="round"/>
<line x1="156.54" y1="795.71" x2="158.11" y2="792.87" stroke="#424185" stroke-width="4.0" stroke-linecap="round"/>
<line x1="158.11" y1="792.87" x2="159.06" y2="799.17" stroke="#39578b" stroke-width="4.0" stroke-linecap="round"/>
<line x1="159.06" y1="799.17" x2="165.04" y2="801.37" stroke="#31698d" stroke-width="4.0" stroke-linecap="round"/>
<line x1="165.04" y1="801.37" x2="170.08" y2="800.43" stroke="#2a788e" stroke-width="4.0" stroke-linecap="round"/>
<line x1="170.08" y1="800.43" x2="173.86" y2="802" stroke="#26828d" stroke-width="4.0" stroke-linecap="round"/>
<line x1="173.86" y1="802" x2="173.23" y2="805.78" stroke="#238b8c" stroke-width="4.0" stroke-linecap="round"/>
<line x1="173.23" y1="805.78" x2="169.45" y2="803.89" stroke="#21908c" stroke-width="4.0" stroke-linecap="round"/>
<line x1="169.45" y1="803.89" x2="166.93" y2="802.32" stroke="#21928c" stroke-width="4.0" stroke-linecap="round"/>
<line x1="166.93" y1="802.32" x2="166.17" y2="806.1" stroke="#21948b" stroke-width="4.0" stroke-linecap="round"/>
<line x1="166.17" y1="806.1" x2="168.82" y2="806.73" stroke="#21958b" stroke-width="4.0" stroke-linecap="round"/>
<line x1="168.82" y1="806.73" x2="171.65" y2="807.04" stroke="#21988a" stroke-width="4.0" stroke-linecap="round"/>
<line x1="171.65" y1="807.04" x2="170.71" y2="809.87" stroke="#229e88" stroke-width="4.0" stroke-linecap="round"/>
<line x1="170.71" y1="809.87" x2="163.78" y2="811.45" stroke="#22a784" stroke-width="4.0" stroke-linecap="round"/>
<line x1="163.78" y1="811.45" x2="159.69" y2="809.56" stroke="#30b17c" stroke-width="4.0" stroke-linecap="round"/>
<line x1="159.69" y1="809.56" x2="160.95" y2="801.37" stroke="#3dba74" stroke-width="4.0" stroke-linecap="round"/>
<line x1="160.95" y1="801.37" x2="164.41" y2="794.45" stroke="#4fc36a" stroke-width="4.0" stroke-linecap="round"/>
<line x1="164.41" y1="794.45" x2="169.45" y2="790.98" stroke="#64ca5d" stroke-width="4.0" stroke-linecap="round"/>
<line x1="169.45" y1="790.98" x2="173.86" y2="790.54" stroke="#7ad151" stroke-width="4.0" stroke-linecap="round"/>
<line x1="173.86" y1="790.54" x2="173.23" y2="795.08" stroke="#91d642" stroke-width="4.0" stroke-linecap="round"/>
<line x1="173.23" y1="795.08" x2="175.43" y2="796.65" stroke="#a2d937" stroke-width="4.0" stroke-linecap="round"/>
<line x1="175.43" y1="796.65" x2="180.78" y2="792.56" stroke="#b6de2a" stroke-width="4.0" stroke-linecap="round"/>
<line x1="180.78" y1="792.56" x2="185.82" y2="789.53" stroke="#d0e126" stroke-width="4.0" stroke-linecap="round"/>
<line x1="185.82" y1="789.53" x2="188.84" y2="790.79" stroke="#ede525" stroke-width="4.0" stroke-linecap="round"/>
</g>
<rect x="91.5" y="704.2" width="154.1" height="154.2" fill="none" stroke="#000" stroke-width="1.11"/>
</svg></body></html>
